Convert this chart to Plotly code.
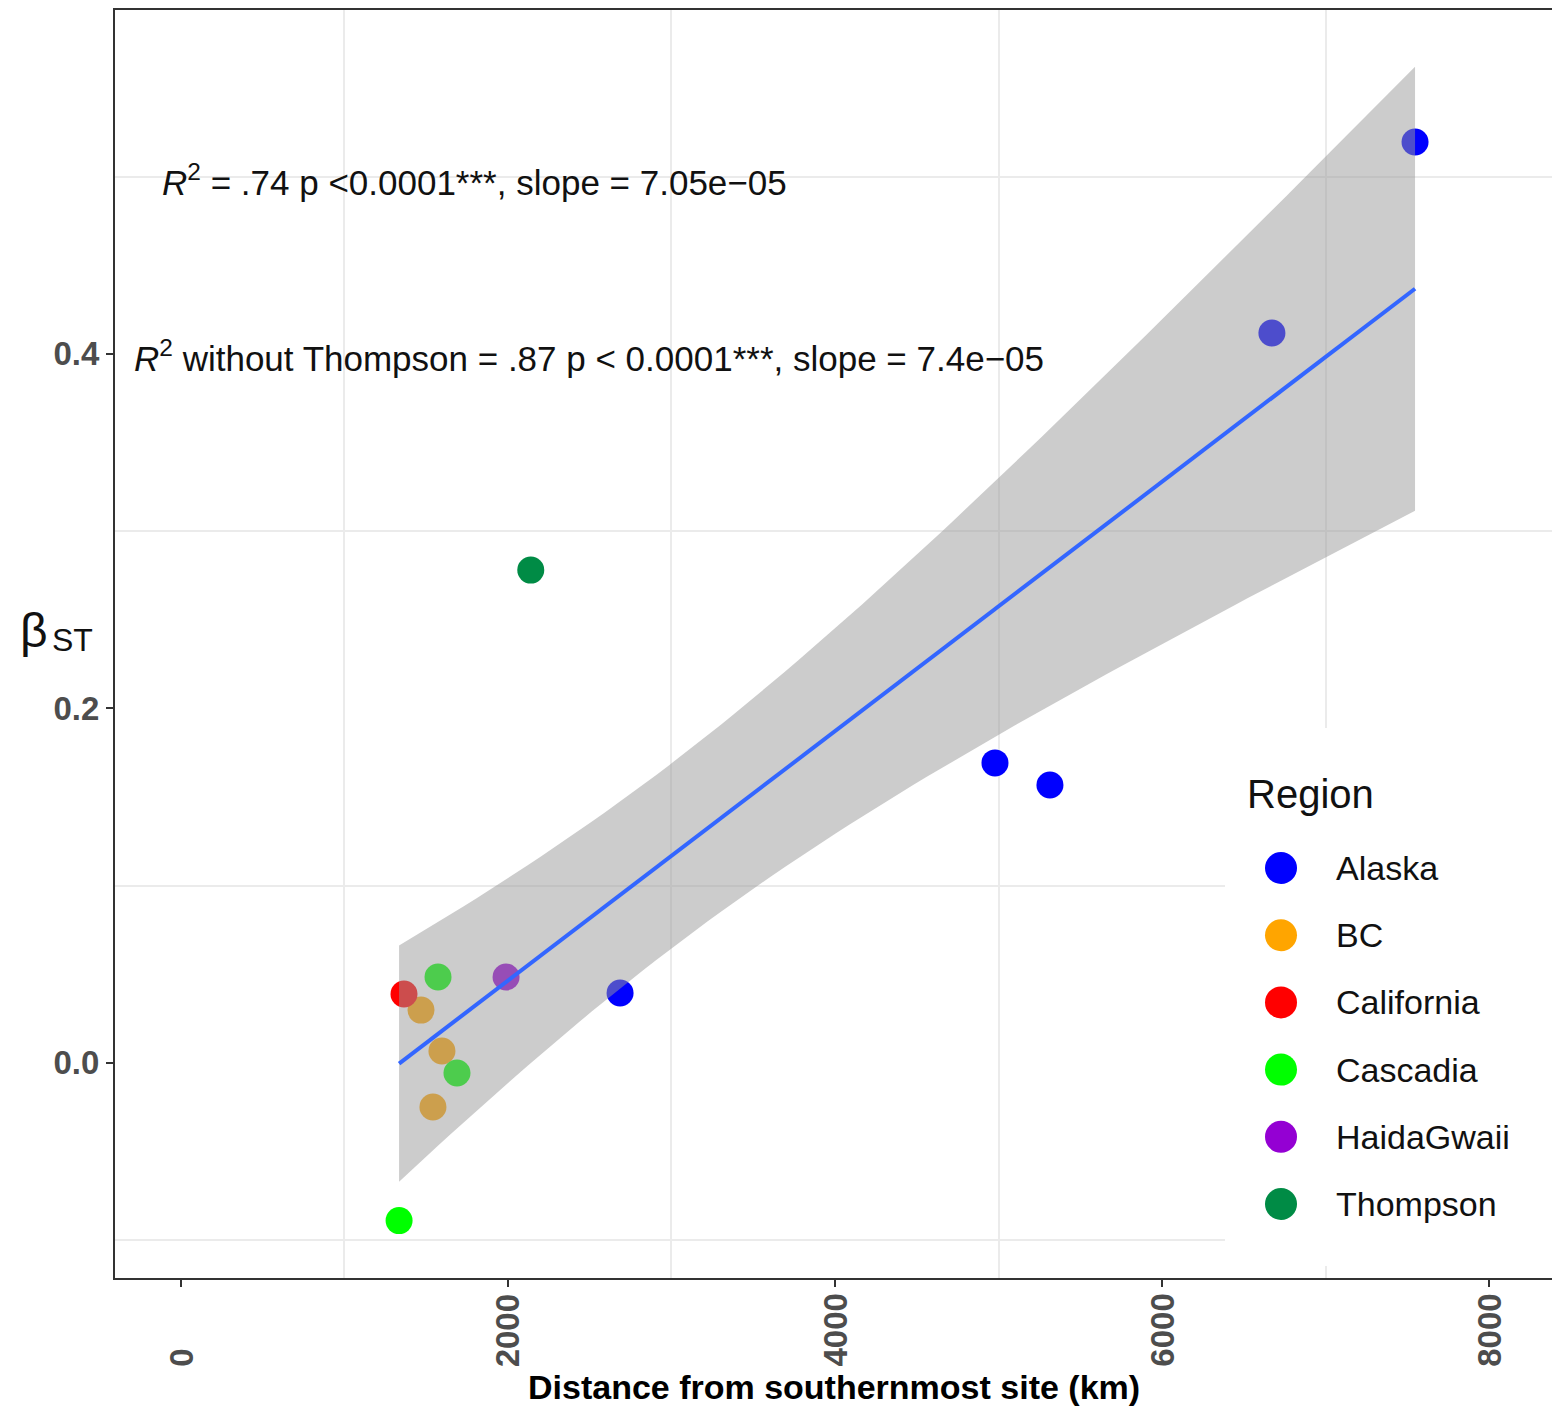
import numpy as np
import plotly.graph_objects as go

# ---- data -------------------------------------------------------------
regions = ["Alaska", "BC", "California", "Cascadia", "HaidaGwaii", "Thompson"]
region_colors = ["#0000FF", "#FFA500", "#FF0000", "#00FF00", "#9400D3", "#008B45"]

# distance from the southernmost site (km) and beta_ST for each site
alaska_km = [7546, 6671, 4978, 5314, 2686]
alaska_bst = [0.5196, 0.4118, 0.1692, 0.1567, 0.0393]
bc_km = [1469, 1597, 1542]
bc_bst = [0.0297, 0.0066, -0.0250]
california_km = [1365]
california_bst = [0.0388]
cascadia_km = [1573, 1689, 1335]
cascadia_bst = [0.0484, -0.0058, -0.0891]
haida_km = [1989]
haida_bst = [0.0484]
thompson_km = [2140]
thompson_bst = [0.2780]

region_km = [alaska_km, bc_km, california_km, cascadia_km, haida_km, thompson_km]
region_bst = [alaska_bst, bc_bst, california_bst, cascadia_bst, haida_bst, thompson_bst]

x_ticks = [0, 2000, 4000, 6000, 8000]
y_ticks = [0.0, 0.2, 0.4]
y_tick_text = ["0.0", "0.2", "0.4"]

label_all = "<i>R</i><sup>2</sup> = .74 p <0.0001***, slope = 7.05e\u221205"
label_wo = "<i>R</i><sup>2</sup> without Thompson = .87 p < 0.0001***, slope = 7.4e\u221205"

# ---- linear fit with 95% confidence band -------------------------------
x_all = np.array([v for grp in region_km for v in grp], dtype=float)
y_all = np.array([v for grp in region_bst for v in grp], dtype=float)
n = len(x_all)
slope, intercept = np.polyfit(x_all, y_all, 1)
resid = y_all - (slope * x_all + intercept)
s = np.sqrt(np.sum(resid ** 2) / (n - 2))
x_mean = x_all.mean()
sxx = np.sum((x_all - x_mean) ** 2)
t_crit = 2.178813  # two-sided 95% t quantile, 12 degrees of freedom

x_fit = np.linspace(x_all.min(), x_all.max(), 80)
y_fit = slope * x_fit + intercept
half = t_crit * s * np.sqrt(1.0 / n + (x_fit - x_mean) ** 2 / sxx)

# ---- figure -----------------------------------------------------------
FONT = "Liberation Sans, Arial, sans-serif"
W, H = 1552, 1408
ML, MR, MT, MB = 115, 0, 10, 130
PW, PH = W - ML - MR, H - MT - MB


def px_x(p):
    return (p - ML) / PW


def px_y(p):
    return (H - MB - p) / PH


fig = go.Figure()

# points (drawn first, the smoother band sits on top of them)
for name, col, xs, ys in zip(regions, region_colors, region_km, region_bst):
    fig.add_trace(go.Scatter(
        x=xs, y=ys, mode="markers", name=name,
        marker=dict(size=27, color=col, line=dict(width=0)),
        showlegend=False, hoverinfo="x+y+name",
    ))

fig.add_trace(go.Scatter(
    x=np.concatenate([x_fit, x_fit[::-1]]),
    y=np.concatenate([y_fit + half, (y_fit - half)[::-1]]),
    fill="toself", fillcolor="rgba(153,153,153,0.5)",
    line=dict(width=0), mode="lines", showlegend=False, hoverinfo="skip",
))
fig.add_trace(go.Scatter(
    x=x_fit, y=y_fit, mode="lines",
    line=dict(color="#3366FF", width=4), showlegend=False,
))

annotations = []

# statistics labels
annotations.append(dict(x=1793, y=0.498, xref="x", yref="y", text=label_all,
                        showarrow=False, xanchor="center", yanchor="middle",
                        font=dict(family=FONT, size=35, color="#111111")))
annotations.append(dict(x=2497, y=0.399, xref="x", yref="y", text=label_wo,
                        showarrow=False, xanchor="center", yanchor="middle",
                        font=dict(family=FONT, size=35, color="#111111")))

# rotated x tick labels, bottom aligned
for v in x_ticks:
    annotations.append(dict(x=v, y=px_y(1369), xref="x", yref="paper",
                            text=str(v), textangle=-90, showarrow=False,
                            xanchor="center", yanchor="bottom",
                            font=dict(family=FONT, size=33, color="#4D4D4D", weight=700)))

# axis titles
annotations.append(dict(x=0.5, y=px_y(1387), xref="paper", yref="paper",
                        text="Distance from southernmost site (km)", showarrow=False,
                        xanchor="center", yanchor="middle",
                        font=dict(family=FONT, size=34, color="#000000", weight=700)))
annotations.append(dict(x=px_x(50), y=px_y(630), xref="paper", yref="paper",
                        text="\u03b2", showarrow=False, xanchor="right", yanchor="middle",
                        font=dict(family=FONT, size=48, color="#111111")))
annotations.append(dict(x=px_x(50), y=px_y(640), xref="paper", yref="paper",
                        text="ST", showarrow=False, xanchor="left", yanchor="middle",
                        font=dict(family=FONT, size=32, color="#111111")))

shapes = []

# legend panel
legend_top, legend_bottom, legend_left = 728, 1266, 1225
shapes.append(dict(type="rect", xref="paper", yref="paper",
                   x0=px_x(legend_left), x1=1.0, y0=px_y(legend_bottom), y1=px_y(legend_top),
                   fillcolor="white", line=dict(width=0), layer="above"))
annotations.append(dict(x=px_x(1245), y=px_y(794), xref="paper", yref="paper",
                        text="Region", showarrow=False, xanchor="left", yanchor="middle",
                        font=dict(family=FONT, size=40, color="#111111")))
row0, row_gap = 868, 67.2
for i, (name, col) in enumerate(zip(regions, region_colors)):
    cy = row0 + i * row_gap
    shapes.append(dict(type="circle", xref="paper", yref="paper",
                       xsizemode="pixel", ysizemode="pixel",
                       xanchor=px_x(1281), yanchor=px_y(cy),
                       x0=-16, x1=16, y0=-16, y1=16,
                       fillcolor=col, line=dict(width=0), layer="above"))
    annotations.append(dict(x=px_x(1334), y=px_y(cy), xref="paper", yref="paper",
                            text=name, showarrow=False, xanchor="left", yanchor="middle",
                            font=dict(family=FONT, size=34, color="#111111")))

fig.update_layout(
    width=W, height=H,
    margin=dict(l=ML, r=MR, t=MT, b=MB, pad=0),
    paper_bgcolor="white", plot_bgcolor="white",
    showlegend=False,
    annotations=annotations, shapes=shapes,
    font=dict(family=FONT),
)

fig.update_xaxes(
    range=[-401.7, 8383.3], tickvals=x_ticks, showticklabels=False,
    ticks="outside", ticklen=7, tickwidth=2, tickcolor="#333333",
    showgrid=False, zeroline=False,
    showline=True, linecolor="#333333", linewidth=2, mirror=True,
    minor=dict(tickvals=[1000, 3000, 5000, 7000], showgrid=True,
               gridcolor="#EBEBEB", gridwidth=2, ticks=""),
)
fig.update_yaxes(
    range=[-0.1215, 0.5941], tickvals=y_ticks, ticktext=y_tick_text,
    ticks="outside", ticklen=7, tickwidth=2, tickcolor="#333333",
    tickfont=dict(family=FONT, size=33, color="#4D4D4D", weight=700),
    showgrid=False, zeroline=False,
    showline=True, linecolor="#333333", linewidth=2, mirror=False,
    minor=dict(tickvals=[-0.1, 0.1, 0.3, 0.5], showgrid=True,
               gridcolor="#EBEBEB", gridwidth=2, ticks=""),
)

fig.write_html("out.html")
